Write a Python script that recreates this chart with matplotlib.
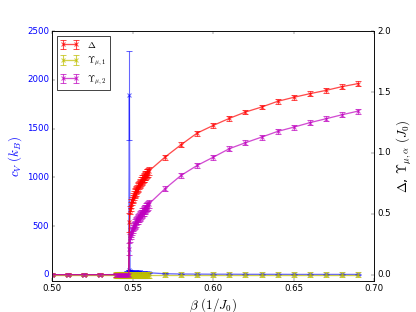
import numpy as np
import matplotlib
matplotlib.use('Agg')
import matplotlib.pyplot as plt

plt.style.use('classic')

# beta grid: sparse, dense near transition, sparse again
beta_lo = [0.50, 0.51, 0.52, 0.53]
beta_dense = [0.5400, 0.5404, 0.5408, 0.5412, 0.5416, 0.5420, 0.5424, 0.5428,
              0.5432, 0.5436, 0.5440, 0.5444, 0.5448, 0.5452, 0.5456, 0.5460,
              0.5464, 0.5468, 0.5472, 0.5476,
              0.5480, 0.5484, 0.5488, 0.5492, 0.5496, 0.5500, 0.5504, 0.5508,
              0.5512, 0.5516, 0.5520, 0.5524, 0.5528, 0.5532, 0.5536, 0.5540,
              0.5544, 0.5548, 0.5552, 0.5556, 0.5560, 0.5564, 0.5568, 0.5572,
              0.5576, 0.5580, 0.5584, 0.5588, 0.5592, 0.5596, 0.5600]
beta_hi = [0.57, 0.58, 0.59, 0.60, 0.61, 0.62, 0.63, 0.64, 0.65, 0.66,
           0.67, 0.68, 0.69]

# specific heat c_V (k_B)
cv_lo = [0, 0, 0, 0]
cv_dense = [2, 3, 3, 4, 4, 5, 5, 6, 6, 7, 8, 9, 10, 11, 13, 15, 18, 22, 30, 50,
            1840,
            40, 32, 30, 28, 27, 26, 26, 25, 25, 25, 24, 24, 24, 23, 23,
            23, 23, 22, 22, 22, 22, 21, 21, 21, 21, 20, 20, 20, 20, 20]
cv_hi = [10, 7, 6, 5, 5, 4, 4, 4, 3, 3, 3, 3, 3]
cv_err_dense = [3]*20 + [460] + [5]*30

# gap Delta (J_0)
d_lo = [0, 0, 0, 0]
d_dense = [0]*20 + [0.43, 0.53, 0.56, 0.585, 0.605, 0.62, 0.635, 0.65, 0.665,
                    0.675, 0.685, 0.695, 0.705, 0.715, 0.725, 0.735, 0.745,
                    0.755, 0.765, 0.77, 0.78, 0.785, 0.795, 0.80, 0.81, 0.815,
                    0.82, 0.83, 0.835, 0.84, 0.85]
d_hi = [0.965, 1.067, 1.163, 1.226, 1.284, 1.336, 1.377, 1.424, 1.457,
        1.487, 1.514, 1.545, 1.570]
d_err_dense = [0.015]*20 + [0.08] + [0.035]*30

# Upsilon_{mu,1}
u1_lo = [0, 0, 0, 0]
u1_dense = [0]*51
u1_hi = [0]*13

# Upsilon_{mu,2}
u2_lo = [0, 0, 0, 0]
u2_dense = [0]*20 + [0.21, 0.30, 0.325, 0.345, 0.36, 0.375, 0.39, 0.40, 0.41,
                     0.42, 0.43, 0.44, 0.45, 0.455, 0.465, 0.47, 0.48, 0.485,
                     0.495, 0.50, 0.51, 0.515, 0.52, 0.53, 0.535, 0.54, 0.55,
                     0.555, 0.56, 0.57, 0.58]
u2_hi = [0.705, 0.815, 0.897, 0.965, 1.035, 1.084, 1.130, 1.177, 1.212,
         1.249, 1.281, 1.314, 1.344]
u2_err_dense = [0.015]*20 + [0.05] + [0.035]*30

beta = np.array(beta_lo + beta_dense + beta_hi)
cv = np.array(cv_lo + cv_dense + cv_hi)
cv_err = np.array([2]*4 + cv_err_dense + [4]*13)
delta = np.array(d_lo + d_dense + d_hi)
delta_err = np.array([0.01]*4 + d_err_dense + [0.02]*13)
u1 = np.array(u1_lo + u1_dense + u1_hi)
u1_err = np.array([0.01]*4 + [0.025]*51 + [0.02]*13)
u2 = np.array(u2_lo + u2_dense + u2_hi)
u2_err = np.array([0.01]*4 + u2_err_dense + [0.02]*13)

style = dict(marker='x', lw=1.8, ms=5, mew=1.4, capsize=4, elinewidth=1.5,
             capthick=1.3)

################################################################################
fig = plt.figure(figsize=(8, 6))
ax1 = fig.add_subplot(111)
ax1.errorbar(beta, cv, yerr=cv_err, color='b', alpha=0.6, **style)
ax1.set_ylim(-62.5, 2500)
ax1.set_xlim(0.50, 0.70)
ax1.set_ylabel(r'$c_V$ $(k_B)$', color='b', fontsize=18)
ax1.set_xlabel(r'$\beta$ $(1/J_0)$', fontsize=18)
for t in ax1.get_yticklabels():
    t.set_color('b')

ax2 = ax1.twinx()
ax2.errorbar(beta, delta, yerr=delta_err, color='r', alpha=0.7,
             label=r'$\Delta$', **style)
ax2.errorbar(beta, u1, yerr=u1_err, color='y', alpha=0.7,
             label=r'$\Upsilon_{\mu,1}$', **style)
ax2.errorbar(beta, u2, yerr=u2_err, color='m', alpha=0.7,
             label=r'$\Upsilon_{\mu,2}$', **style)
ax2.set_ylim(-0.05, 2.0)
ax2.set_xlim(0.50, 0.70)
ax2.set_ylabel(r'$\Delta$, $\Upsilon_{\mu,\alpha}$ $(J_0)$', fontsize=18)
ax2.legend(loc=2, fontsize=13, handlelength=2.0)

fig.savefig('out.png', dpi=52)
